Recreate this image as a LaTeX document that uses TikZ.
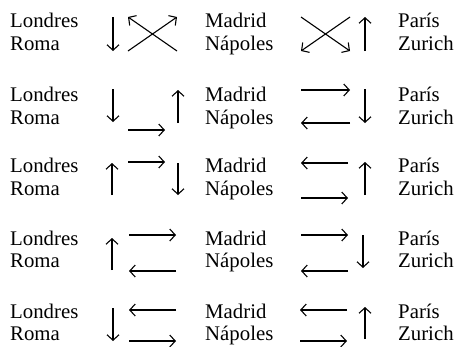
\documentclass[tikz,border=0pt]{standalone}
\usepackage{fontspec}
\setmainfont{Liberation Serif}
\usetikzlibrary{arrows.meta}
\begin{document}
\begin{tikzpicture}[x=1pt,y=-1pt,
  lbl/.style={anchor=base west,inner sep=0pt,font=\fontsize{20.8}{23}\selectfont},
  arr/.style={line width=1.1pt,-{Straight Barb[length=5.5pt,width=12pt]}}]
\useasboundingbox (0,0) rectangle (458,346);
\newcommand\arr[3]{\coordinate (#1s) at (#2); \coordinate (#1e) at (#3); \draw[arr] (#1s) -- (#1e);}
% text
\foreach \i/\a/\b in {1/27/50,2/101/124,3/172/195,4/245/267,5/318/340}{
  \node[lbl] (L\i) at (10,\a) {Londres};
  \node[lbl] (R\i) at (10,\b) {Roma};
  \node[lbl] (M\i) at (205,\a) {Madrid};
  \node[lbl] (N\i) at (205,\b) {Nápoles};
  \node[lbl] (P\i) at (398,\a) {París};
  \node[lbl] (Z\i) at (398,\b) {Zurich};
}
% row 1
\arr{a1}{113,17}{113,51}
\arr{a2}{177,51}{128,17}
\arr{a3}{128,51}{177,17}
\arr{a4}{350,17}{301,51}
\arr{a5}{301,17}{350,51}
\arr{a6}{365,51}{365,17}
% row 2
\arr{b1}{113,89}{113,122}
\arr{b2}{128,130}{165,130}
\arr{b3}{178,123}{178,90}
\arr{b4}{301,90}{350,90}
\arr{b5}{350,123}{301,123}
\arr{b6}{365,89}{365,123}
% row 3
\arr{c1}{112,195}{112,163}
\arr{c2}{128,162}{165,162}
\arr{c3}{178,163}{178,195}
\arr{c4}{348,163}{301,163}
\arr{c5}{301,198}{348,198}
\arr{c6}{365,195}{365,162}
% row 4
\arr{d1}{112,270}{112,238}
\arr{d2}{129,235}{176,235}
\arr{d3}{176,271}{129,271}
\arr{d4}{301,235}{348,235}
\arr{d5}{348,271}{301,271}
\arr{d6}{363,235}{363,268}
% row 5
\arr{e1}{113,308}{113,341}
\arr{e2}{176,310}{129,310}
\arr{e3}{129,341}{176,341}
\arr{e4}{347,310}{300,310}
\arr{e5}{300,341}{347,341}
\arr{e6}{365,339}{365,307}
\end{tikzpicture}
\end{document}
